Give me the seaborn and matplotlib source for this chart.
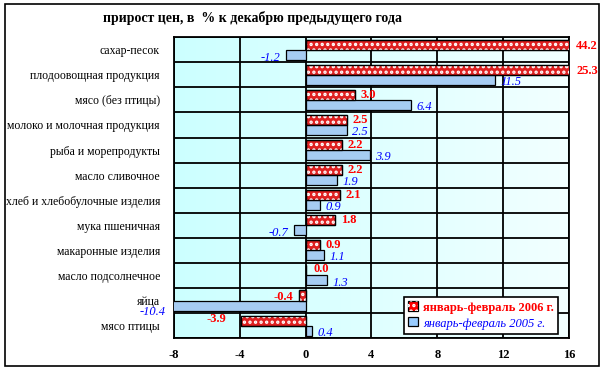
import numpy as np
import pandas as pd
import seaborn as sns
import matplotlib.pyplot as plt
from matplotlib.patches import Rectangle, Patch
from matplotlib.legend_handler import HandlerPatch
from matplotlib.colors import LinearSegmentedColormap

# data
categories = ['сахар-песок', 'плодоовощная продукция', 'мясо (без птицы)',
              'молоко и молочная продукция', 'рыба и морепродукты',
              'масло сливочное', 'хлеб и хлебобулочные изделия',
              'мука пшеничная', 'макаронные изделия', 'масло подсолнечное',
              'яйца', 'мясо птицы']
vals_2006 = [44.2, 25.3, 3.0, 2.5, 2.2, 2.2, 2.1, 1.8, 0.9, 0.0, -0.4, -3.9]
vals_2005 = [-1.2, 11.5, 6.4, 2.5, 3.9, 1.9, 0.9, -0.7, 1.1, 1.3, -10.4, 0.4]
series = ['январь-февраль 2006 г.', 'январь-февраль 2005 г.']
xticks = [-8, -4, 0, 4, 8, 12, 16]

df = pd.DataFrame({
    'cat': categories * 2,
    'val': vals_2006 + vals_2005,
    'series': [series[0]] * len(categories) + [series[1]] * len(categories),
})

RED = '#FF0000'
BLUE = '#99CCFF'
HATCH = '...'

plt.rcParams['font.family'] = ['Liberation Serif', 'DejaVu Serif']
plt.rcParams['hatch.linewidth'] = 1.6

fig = plt.figure(figsize=(6.08, 3.72), dpi=100)
ax = fig.add_axes([0.286, 0.091, 0.65, 0.809])

sns.barplot(data=df, y='cat', x='val', hue='series', orient='h',
            palette=[RED, BLUE], width=0.8, edgecolor='black', linewidth=0.9,
            legend=False, ax=ax, zorder=3)

xmin, xmax = xticks[0], xticks[-1]
ax.set_xlim(xmin, xmax)
ax.set_ylim(len(categories) - 0.5, -0.5)

# background gradient
grad = np.linspace(0, 1, 256).reshape(1, -1)
bg = LinearSegmentedColormap.from_list('bg', ['#CCFFFF', '#F2FFFF'])
ax.imshow(grad, extent=[xmin, xmax, len(categories) - 0.5, -0.5],
          aspect='auto', cmap=bg, zorder=0)

# checkered overlay on the red bars
for p in ax.containers[0]:
    ax.add_patch(Rectangle(p.get_xy(), p.get_width(), p.get_height(),
                           facecolor='none', edgecolor='white', hatch=HATCH,
                           linewidth=0, zorder=3.5))
    ax.add_patch(Rectangle(p.get_xy(), p.get_width(), p.get_height(),
                           facecolor='none', edgecolor='black',
                           linewidth=0.9, zorder=3.6))

# grid
for x in xticks:
    ax.axvline(x, color='black', lw=1.3, zorder=1)
for i in range(len(categories) + 1):
    ax.axhline(i - 0.5, color='black', lw=1.3, zorder=1)

ax.set_xticks(xticks)
ax.set_xticklabels([str(t) for t in xticks], fontweight='bold', fontsize=9)
ax.tick_params(axis='both', length=0, pad=8)
ax.tick_params(axis='y', labelsize=8.5, pad=10)
ax.set_xlabel('')
ax.set_ylabel('')
for s in ax.spines.values():
    s.set_linewidth(1.3)

# value labels
lab_red = dict(color=RED, fontweight='bold', fontsize=9, va='center')
lab_blue = dict(color='blue', fontstyle='italic', fontsize=9, va='center')
for i, v in enumerate(vals_2006):
    y = i - 0.2
    if v > xmax:
        ax.annotate(f'{v:.1f}', (xmax, y), xytext=(5, -1), textcoords='offset points',
                    ha='left', annotation_clip=False, **lab_red)
    elif v < 0:
        off = (-4, -1) if v > -1 else (-11, 1)
        ax.annotate(f'{v:.1f}', (v, y), xytext=off, textcoords='offset points',
                    ha='right', **lab_red)
    elif v == 0:
        ax.annotate(f'{v:.1f}', (v, y), xytext=(6, 1), textcoords='offset points',
                    ha='left', **lab_red)
    else:
        ax.annotate(f'{v:.1f}', (v, y), xytext=(4, 0), textcoords='offset points',
                    ha='left', **lab_red)

for i, v in enumerate(vals_2005):
    y = i + 0.2
    if v < xmin:
        ax.annotate(f'{v:.1f}', (xmin, y), xytext=(-6, -5), textcoords='offset points',
                    ha='right', annotation_clip=False, **lab_blue)
    elif v < 0:
        ax.annotate(f'{v:.1f}', (v, y), xytext=(-4, -2), textcoords='offset points',
                    ha='right', **lab_blue)
    else:
        ax.annotate(f'{v:.1f}', (v, y), xytext=(4, -1.5), textcoords='offset points',
                    ha='left', **lab_blue)

# legend
class HatchHandler(HandlerPatch):
    def create_artists(self, legend, orig_handle, xd, yd, w, h, fontsize, trans):
        s = min(w, h)
        base = Rectangle((xd + (w - s) / 2, yd), s, s, facecolor=RED,
                         edgecolor='black', lw=0.9, transform=trans)
        hat = Rectangle((xd + (w - s) / 2, yd), s, s, facecolor='none',
                        edgecolor='white', hatch=HATCH, lw=0, transform=trans)
        return [base, hat]

class SquareHandler(HandlerPatch):
    def create_artists(self, legend, orig_handle, xd, yd, w, h, fontsize, trans):
        s = min(w, h)
        return [Rectangle((xd + (w - s) / 2, yd), s, s, facecolor=BLUE,
                          edgecolor='black', lw=0.9, transform=trans)]

h1 = Patch(facecolor=RED)
h2 = Patch(facecolor=BLUE)
leg = ax.legend([h1, h2], series, loc='lower right', bbox_to_anchor=(0.972, 0.013),
                handler_map={h1: HatchHandler(), h2: SquareHandler()},
                fancybox=False, framealpha=1, edgecolor='black', fontsize=9,
                handlelength=0.8, handleheight=0.8, handletextpad=0.4,
                borderpad=0.35, labelspacing=0.3, borderaxespad=0)
leg.get_frame().set_linewidth(1.2)
leg.set_zorder(10)
t1, t2 = leg.get_texts()
t1.set_color(RED)
t1.set_fontweight('bold')
t2.set_color('blue')
t2.set_fontstyle('italic')

fig.text(0.416, 0.952, 'прирост цен, в  % к декабрю предыдущего года',
         ha='center', va='center', fontsize=10, fontweight='bold')

fig.patches.append(Rectangle((0.008, 0.016), 0.977, 0.972, transform=fig.transFigure,
                             facecolor='none', edgecolor='black', lw=1.2))

fig.savefig('out.png', dpi=100, facecolor='white')
